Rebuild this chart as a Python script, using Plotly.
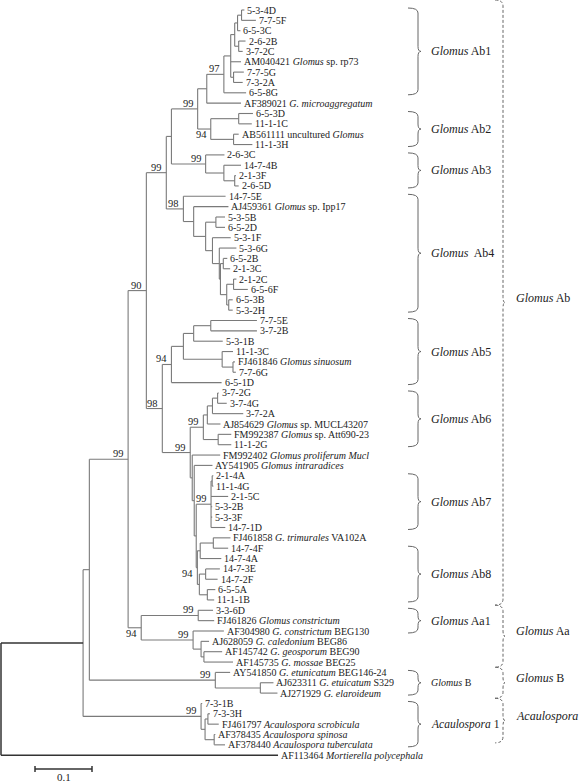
import plotly.graph_objects as go

# ---------------- data ----------------
TIP_LABELS = [
    "5-3-4D", "7-7-5F", "6-5-3C", "2-6-2B", "3-7-2C",
    "AM040421 <i>Glomus</i> sp. rp73", "7-7-5G", "7-3-2A", "6-5-8G",
    "AF389021 <i>G. microaggregatum</i>",
    "6-5-3D", "11-1-1C", "AB561111 uncultured <i>Glomus</i>", "11-1-3H",
    "2-6-3C", "14-7-4B", "2-1-3F", "2-6-5D",
    "14-7-5E", "AJ459361 <i>Glomus</i> sp. Ipp17", "5-3-5B", "6-5-2D", "5-3-1F",
    "5-3-6G", "6-5-2B", "2-1-3C", "2-1-2C", "6-5-6F", "6-5-3B", "5-3-2H",
    "7-7-5E", "3-7-2B", "5-3-1B", "11-1-3C", "FJ461846 <i>Glomus sinuosum</i>",
    "7-7-6G", "6-5-1D",
    "3-7-2G", "3-7-4G", "3-7-2A", "AJ854629 <i>Glomus</i> sp. MUCL43207",
    "FM992387 <i>Glomus</i> sp. Att690-23", "11-1-2G",
    "FM992402 <i>Glomus proliferum Mucl</i>", "AY541905 <i>Glomus intraradices</i>",
    "2-1-4A", "11-1-4G", "2-1-5C", "5-3-2B", "5-3-3F", "14-7-1D",
    "FJ461858 <i>G. trimurales</i> VA102A", "14-7-4F", "14-7-4A", "14-7-3E",
    "14-7-2F", "6-5-5A", "11-1-1B",
    "3-3-6D", "FJ461826 <i>Glomus constrictum</i>",
    "AF304980 <i>G. constrictum</i> BEG130", "AJ628059 <i>G. caledonium</i> BEG86",
    "AF145742 <i>G. geosporum</i> BEG90", "AF145735 <i>G. mossae</i> BEG25",
    "AY541850 <i>G. etunicatum</i> BEG146-24", "AJ623311 <i>G. etuicatum</i> S329",
    "AJ271929 <i>G. elaroideum</i>",
    "7-3-1B", "7-3-3H", "FJ461797 <i>Acaulospora scrobicula</i>",
    "AF378435 <i>Acaulospora spinosa</i>", "AF378440 <i>Acaulospora tuberculata</i>",
    "AF113464 <i>Mortierella polycephala</i>",
]

# Newick pieces (branch lengths in substitutions/site, internal labels = bootstrap)
AB1 = ("(((((t0:0.005,t1:0.025):0.007,t2:0.005):0.005,(t3:0.012,t4:0.007):0.007):0.007,"
       "t5:0.018,(t6:0.018,t7:0.016):0.005):0.012,t8:0.039)97:0.030")
AB1_G = f"({AB1},t9:0.060):0.016"
AB2 = "((t10:0.025,t11:0.023):0.049,(t12:0.009,t13:0.033):0.040)94:0.023"
AB12 = f"({AB1_G},{AB2})99:0.046"
AB3 = "(t14:0.033,(t15:0.030,(t16:0.002,t17:0.007):0.019):0.032)99:0.060"
AB123 = f"({AB12},{AB3}):0.009"
AB4 = ("(t18:0.074,(t19:0.061,((t20:0.016,t21:0.016):0.018,(t22:0.032,(t23:0.030,"
       "((t24:0.007,t25:0.012):0.005,((t26:0.005,t27:0.025):0.012,(t28:0.007,t29:0.007)"
       ":0.0035):0.011):0.002):0.012):0.012):0.021):0.018)98:0.030")
AB1234 = f"({AB123},{AB4})99:0.035"
AB5 = ("((((t30:0.081,t31:0.081):0.030,t32:0.051):0.018,(t33:0.019,(t34:0.0035,"
       "t35:0.005):0.019):0.068):0.021,t36:0.088)94:0.016")
AB6 = ("((((t37:0.002,t38:0.016):0.009,t39:0.054):0.009,t40:0.023):0.007,"
       "(t41:0.023,t42:0.023):0.026)99:0.023")
AB7 = "((t45:0.002,t46:0.002):0.002,t47:0.030,t48:0.002,t49:0.002,t50:0.025)99:0.026"
AB8 = ("(((t51:0.030,t52:0.026):0.023,t53:0.037):0.005,((t54:0.025,t55:0.021):0.011,"
       "(t56:0.014,t57:0.012):0.014):0.0035)94:0.002")
AB678 = f"({AB6},(t43:0.049,(t44:0.032,({AB7},{AB8}):0.0035):0.0035):0.0035)99:0.049"
AB5678 = f"({AB5},{AB678})98:0.028"
GLOMUS_AB = f"({AB1234},{AB5678})90:0.032"
GLOMUS_AA = ("((t58:0.026,t59:0.028)99:0.100,(t60:0.054,(t61:0.014,(t62:0.032,"
             "t63:0.051):0.005):0.014)99:0.091)94:0.023")
GLOMUS_A = f"({GLOMUS_AB},{GLOMUS_AA})99:0.068"
GLOMUS_B = "(t64:0.026,(t65:0.023,t66:0.030):0.079)99:0.221"
ACAULOSPORA = ("(t67:0.002,((t68:0.0035,t69:0.019):0.005,(t70:0.002,t71:0.019)"
               ":0.016):0.007)99:0.207")
TREE = f"((({GLOMUS_A},{GLOMUS_B}):0.011,{ACAULOSPORA}):0.144,t72:0.486);"

# clade brackets: (label, first tip, last tip, font size)
CLADES = [
    ("<i>Glomus</i> Ab1", 0, 8, 12), ("<i>Glomus</i> Ab2", 10, 13, 12),
    ("<i>Glomus</i> Ab3", 14, 17, 12), ("<i>Glomus</i>  Ab4", 18, 29, 12),
    ("<i>Glomus</i> Ab5", 30, 36, 12), ("<i>Glomus</i> Ab6", 37, 42, 12),
    ("<i>Glomus</i> Ab7", 45, 50, 12), ("<i>Glomus</i> Ab8", 52, 57, 12),
    ("<i>Glomus</i> Aa1", 58, 60, 12), ("<i>Glomus</i> B", 64, 66, 10),
    ("<i>Acaulospora</i> 1", 67, 71, 11.5),
]
GROUPS = [
    ("<i>Glomus</i> Ab", 0, 57), ("<i>Glomus</i> Aa", 58, 63),
    ("<i>Glomus</i> B", 64, 66), ("<i>Acaulospora</i>", 67, 71),
]
SCALE_BAR = 0.1
BOOT_BELOW = {(10, 13), (51, 57), (58, 63)}

# ---------------- parse & layout ----------------
def parse_newick(s):
    pos = 0

    def node():
        nonlocal pos
        n = {"children": [], "name": "", "len": 0.0}
        if s[pos] == "(":
            pos += 1
            while True:
                n["children"].append(node())
                ch = s[pos]
                pos += 1
                if ch == ")":
                    break
        start = pos
        while pos < len(s) and s[pos] not in ",);":
            pos += 1
        tok = s[start:pos]
        if ":" in tok:
            nm, ln = tok.split(":")
            n["name"], n["len"] = nm, float(ln)
        else:
            n["name"] = tok
        return n

    return node()


root = parse_newick(TREE)
leaves = []


def layout(n, depth):
    n["x"] = depth
    if not n["children"]:
        n["y"] = len(leaves)
        n["lo"] = n["hi"] = int(n["name"][1:])
        leaves.append(n)
    else:
        for c in n["children"]:
            layout(c, depth + c["len"])
        n["y"] = (n["children"][0]["y"] + n["children"][-1]["y"]) / 2
        n["lo"] = n["children"][0]["lo"]
        n["hi"] = n["children"][-1]["hi"]


layout(root, 0.0)

# pixel <-> data helpers (for decorations only)
PX_PER_UNIT = 570.0
X0_PX = 1.0
Y0_PX, ROW_PX = 10.0, 10.35
W, H = 581, 784


def X(p):
    return (p - X0_PX) / PX_PER_UNIT


def Y(p):
    return (p - Y0_PX) / ROW_PX


def YP(v):
    return Y0_PX + v * ROW_PX


# ---------------- segments ----------------
gx, gy, rx, ry = [], [], [], []
boots = []


def walk(n, is_root=False):
    if not n["children"]:
        return
    tx, ty = (rx, ry) if is_root else (gx, gy)
    ys = [c["y"] for c in n["children"]]
    tx += [n["x"], n["x"], None]
    ty += [min(ys), max(ys), None]
    for c in n["children"]:
        tx += [n["x"], c["x"], None]
        ty += [c["y"], c["y"], None]
        walk(c)
    if n["name"]:
        boots.append(n)


walk(root, True)

fig = go.Figure()
fig.add_trace(go.Scatter(x=gx, y=gy, mode="lines", hoverinfo="skip",
                         line=dict(color="#7a7a7a", width=1.1)))
fig.add_trace(go.Scatter(x=rx, y=ry, mode="lines", hoverinfo="skip",
                         line=dict(color="#333333", width=1.5)))

FONT = "Liberation Serif, Times New Roman, serif"
ann = []
for lf in leaves:
    ann.append(dict(x=lf["x"], y=lf["y"], text=TIP_LABELS[int(lf["name"][1:])],
                    xanchor="left", yanchor="middle", xshift=2, showarrow=False,
                    borderpad=0, font=dict(family=FONT, size=10, color="#222")))
for b in boots:
    below = (b["lo"], b["hi"]) in BOOT_BELOW
    ann.append(dict(x=b["x"], y=b["y"], text=b["name"], xanchor="right",
                    yanchor="top" if below else "bottom", xshift=-3,
                    yshift=1 if below else -1,
                    showarrow=False, borderpad=0,
                    font=dict(family=FONT, size=10.5, color="#222")))

shapes = []


def brace(y0p, y1p, xl, xv, xc, r, dash):
    ym = (y0p + y1p) / 2
    path = (f"M {X(xl)},{Y(y0p)} Q {X(xv)},{Y(y0p)} {X(xv)},{Y(y0p + r)} "
            f"L {X(xv)},{Y(ym - r)} Q {X(xv)},{Y(ym)} {X(xc)},{Y(ym)} "
            f"Q {X(xv)},{Y(ym)} {X(xv)},{Y(ym + r)} "
            f"L {X(xv)},{Y(y1p - r)} Q {X(xv)},{Y(y1p)} {X(xl)},{Y(y1p)}")
    shapes.append(dict(type="path", path=path, xref="x", yref="y",
                       line=dict(color="#666", width=1, dash=dash)))
    return ym


for lab, a, b, fs in CLADES:
    ym = brace(YP(a) - 2, YP(b) + 2, 408, 418, 421, 5, "solid")
    ann.append(dict(x=X(430), y=Y(ym), text=lab, xanchor="left", yanchor="middle",
                    showarrow=False, borderpad=0,
                    font=dict(family=FONT, size=fs, color="#222")))

for i, (lab, a, b) in enumerate(GROUPS):
    top = YP(a) - 10 if i == 0 else (YP(a - 1) + YP(a)) / 2
    bot = YP(b) - 2 if i == len(GROUPS) - 1 else (YP(b) + YP(b + 1)) / 2
    ym = brace(top, bot, 495, 503, 505, 6, "3px,2px")
    ann.append(dict(x=X(515), y=Y(ym), text=lab, xanchor="left", yanchor="middle",
                    yshift=5, showarrow=False, borderpad=0,
                    font=dict(family=FONT, size=12, color="#222")))

# scale bar
sb0 = X(35)
sby = Y(769)
fig.add_trace(go.Scatter(x=[sb0, sb0 + SCALE_BAR, None, sb0, sb0, None,
                            sb0 + SCALE_BAR, sb0 + SCALE_BAR],
                         y=[sby, sby, None, sby - 0.3, sby + 0.3, None,
                            sby - 0.3, sby + 0.3],
                         mode="lines", hoverinfo="skip",
                         line=dict(color="#333", width=1.5)))
ann.append(dict(x=sb0 + SCALE_BAR / 2, y=sby, text=str(SCALE_BAR), xanchor="center",
                yanchor="top", yshift=-1, showarrow=False, borderpad=0,
                font=dict(family=FONT, size=11, color="#222")))

fig.update_layout(
    width=W, height=H, margin=dict(l=0, r=0, t=0, b=0),
    paper_bgcolor="white", plot_bgcolor="white", showlegend=False,
    xaxis=dict(visible=False, range=[X(0), X(W)], fixedrange=True),
    yaxis=dict(visible=False, range=[Y(H), Y(0)], fixedrange=True),
    annotations=ann, shapes=shapes,
)
fig.write_html("out.html", config={"displayModeBar": False},
               post_script="document.body.style.margin='0';")
